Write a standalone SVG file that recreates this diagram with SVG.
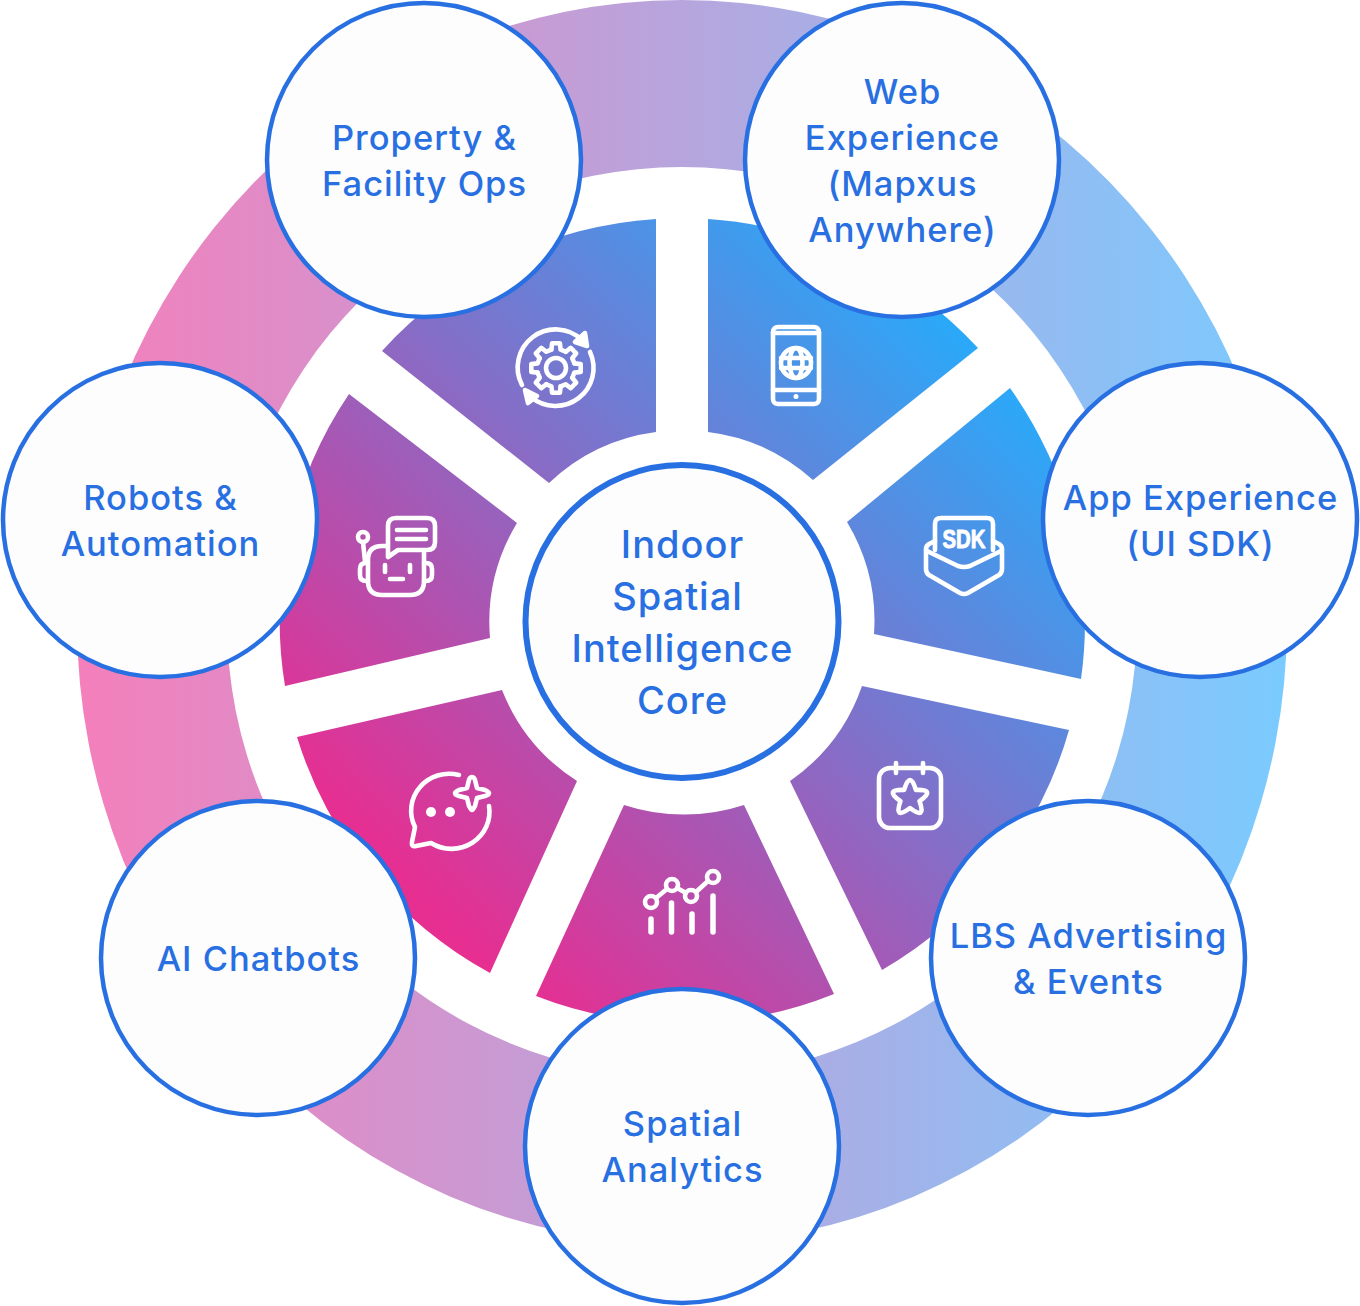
<svg xmlns="http://www.w3.org/2000/svg" xmlns:xlink="http://www.w3.org/1999/xlink" width="1360" height="1306" viewBox="0 0 1360 1306">
<style>
.node{fill:#fdfdfe;stroke:#2870e2;stroke-width:4.500}
.core{stroke-width:6}
text{font-family:"Inter","Liberation Sans",sans-serif;font-weight:500;font-size:34.500px;letter-spacing:1px;fill:#2870e2;text-anchor:middle}
.big{font-size:38px}
.ic{fill:none;stroke:#fff;stroke-width:4.600;stroke-linecap:round;stroke-linejoin:round}
.w{fill:url(#wedge)}
</style>
<defs>
<linearGradient id="ring" gradientUnits="userSpaceOnUse" x1="77" y1="0" x2="1287" y2="0"><stop offset="0" stop-color="#f47fbb"/><stop offset="1" stop-color="#7acbff"/></linearGradient>
<linearGradient id="wedge" gradientUnits="userSpaceOnUse" x1="412" y1="892" x2="967" y2="337"><stop offset="0" stop-color="#e72e91"/><stop offset="1" stop-color="#2aa9f9"/></linearGradient>
<path id="tooth" d="M18.4,-4.6L24.7,-3.9L24.7,3.9L18.4,4.6L16.3,9.8"/>
</defs>
<rect width="1360" height="1306" fill="#fff"/>
<g id="ring-band"><path fill="url(#ring)" fill-rule="evenodd" d="M77,622A605,622 0 1 1 1287,622A605,622 0 1 1 77,622ZM227,622A455,455 0 1 0 1137,622A455,455 0 1 0 227,622Z"/></g>
<g id="wedges">
<path class="w" d="M708,219A404,404 0 0 1 978,348L813,480A192,192 0 0 0 708,432Z"/>
<path class="w" d="M1010,388A404,404 0 0 1 1081,679L874,634A192,192 0 0 0 847,522Z"/>
<path class="w" d="M1069,730A404,404 0 0 1 882,970L790,781A192,192 0 0 0 862,686Z"/>
<path class="w" d="M834,994A404,404 0 0 1 536,996L624,805A192,192 0 0 0 744,805Z"/>
<path class="w" d="M490,973A404,404 0 0 1 297,737L502,690A192,192 0 0 0 577,781Z"/>
<path class="w" d="M285,686A404,404 0 0 1 349,394L517,523A192,192 0 0 0 490,638Z"/>
<path class="w" d="M382,351A404,404 0 0 1 656,219L656,432A192,192 0 0 0 549,483Z"/>
</g>
<g id="connectors"/>
<g id="icon-gear" class="ic">
<path d="M522,385A38,38 0 0 1 582,340"/>
<path d="M590,352A38,38 0 0 1 531,397"/>
<path d="M575,342L587,346L585,333Z" fill="#fff"/>
<path d="M525,390L537,396L528,403Z" fill="#fff"/>
<g transform="translate(556,368)"><use xlink:href="#tooth" href="#tooth"/><use xlink:href="#tooth" href="#tooth" transform="rotate(45)"/><use xlink:href="#tooth" href="#tooth" transform="rotate(90)"/><use xlink:href="#tooth" href="#tooth" transform="rotate(135)"/><use xlink:href="#tooth" href="#tooth" transform="rotate(180)"/><use xlink:href="#tooth" href="#tooth" transform="rotate(225)"/><use xlink:href="#tooth" href="#tooth" transform="rotate(270)"/><use xlink:href="#tooth" href="#tooth" transform="rotate(315)"/></g>
<circle cx="556" cy="368" r="10"/>
</g>
<g id="icon-phone" class="ic">
<rect x="773" y="327" width="46" height="77" rx="5"/>
<path d="M773,333H819M773,390H819"/>
<circle cx="796" cy="363" r="15"/>
<ellipse cx="796" cy="363" rx="6.500" ry="15"/>
<path d="M781,358H811M781,368H811"/>
<circle cx="796" cy="396.500" r="2.500" fill="#fff" stroke="none"/>
</g>
<g id="icon-sdk" class="ic">
<path d="M935,550V524Q935,518 941,518H987Q993,518 993,524V550"/>
<path d="M935,541L929,544Q926,546 926,549V569Q926,573 929,575L960,593Q964,595 968,593L999,575Q1002,573 1002,569V549Q1002,546 999,544L993,541"/>
<path d="M927,551L958,566Q964,568 970,566L1001,551"/>
<text x="964" y="547.500" textLength="43" lengthAdjust="spacingAndGlyphs" style="font-family:'Liberation Sans',sans-serif;font-weight:700;font-size:26px;letter-spacing:0;fill:#fff;stroke:#fff;stroke-width:1">SDK</text>
</g>
<g id="icon-robot" class="ic">
<path d="M388,557V526Q388,518 396,518H427Q435,518 435,526V542Q435,550 427,550H398Z"/>
<path d="M397,530H426M397,539H426"/>
<path d="M387,546H382Q368,546 368,560V581Q368,595 382,595H410Q424,595 424,581V553"/>
<path d="M368,563H366Q360,563 360,569V575Q360,581 366,581H368M424,563H426Q432,563 432,569V575Q432,581 426,581H424"/>
<circle cx="363" cy="537" r="5"/>
<path d="M363,542L365,561M385,565V572M410,565V572M390,579H403"/>
</g>
<g id="icon-chat" class="ic">
<path d="M459,775A38,37 0 0 0 415,827L412,842Q411,847 416,846L431,843A38,37 0 0 0 489,806"/>
<circle cx="431" cy="812" r="5" fill="#fff" stroke="none"/>
<circle cx="450" cy="812" r="5" fill="#fff" stroke="none"/>
<path d="M472,777Q474,777 475,780L477,788L485,790Q489,792 489,793Q489,795 485,796L477,798L475,806Q473,810 472,810Q471,810 469,806L467,798L459,796Q455,795 455,793Q455,792 459,790L467,788L469,780Q470,777 472,777Z"/>
</g>
<g id="icon-analytics" class="ic">
<circle cx="651" cy="902" r="6"/><circle cx="672" cy="885" r="6"/><circle cx="691" cy="896" r="6"/><circle cx="713" cy="877" r="6"/>
<path d="M656,898L667,889M677,888L686,893M696,892L708,881"/>
<path style="stroke-width:5.500" d="M651,919V932M671.500,903V932M692,914V932M713,896V932"/>
</g>
<g id="icon-calendar" class="ic">
<rect x="879" y="768" width="62" height="60" rx="11"/>
<path d="M896,763V773M923,763V773"/>
<path d="M904.100,789.900Q910,770 915.900,789.900Q936.600,789.300 919.500,801.100Q926.500,820.700 910,808Q893.500,820.700 900.500,801.100Q883.400,789.300 904.100,789.900Z"/>
</g>
<g id="node-web"><circle class="node" cx="902" cy="160" r="157"/><text x="902.500" y="104">Web</text><text x="902.500" y="150">Experience</text><text x="902.500" y="196">(Mapxus</text><text x="902.500" y="242">Anywhere)</text></g>
<g id="node-property"><circle class="node" cx="424" cy="160" r="157"/><text x="424.500" y="150">Property &amp;</text><text x="424.500" y="196">Facility Ops</text></g>
<g id="node-app"><circle class="node" cx="1200" cy="520" r="157"/><text x="1200.500" y="510">App Experience</text><text x="1200.500" y="556">(UI SDK)</text></g>
<g id="node-robots"><circle class="node" cx="160" cy="520" r="157"/><text x="160.500" y="510">Robots &amp;</text><text x="160.500" y="556">Automation</text></g>
<g id="node-lbs"><circle class="node" cx="1088" cy="958" r="157"/><text x="1088.500" y="948">LBS Advertising</text><text x="1088.500" y="994">&amp; Events</text></g>
<g id="node-chatbots"><circle class="node" cx="258" cy="958" r="157"/><text x="258.500" y="971">AI Chatbots</text></g>
<g id="node-analytics"><circle class="node" cx="682" cy="1146" r="157"/><text x="682.500" y="1136">Spatial</text><text x="682.500" y="1182">Analytics</text></g>
<g id="node-core"><circle class="node core" cx="682" cy="621.500" r="156.500"/><text class="big" x="682.500" y="558">Indoor</text><text class="big" x="677.500" y="610">Spatial</text><text class="big" x="682.500" y="662">Intelligence</text><text class="big" x="682.500" y="714">Core</text></g>
</svg>
